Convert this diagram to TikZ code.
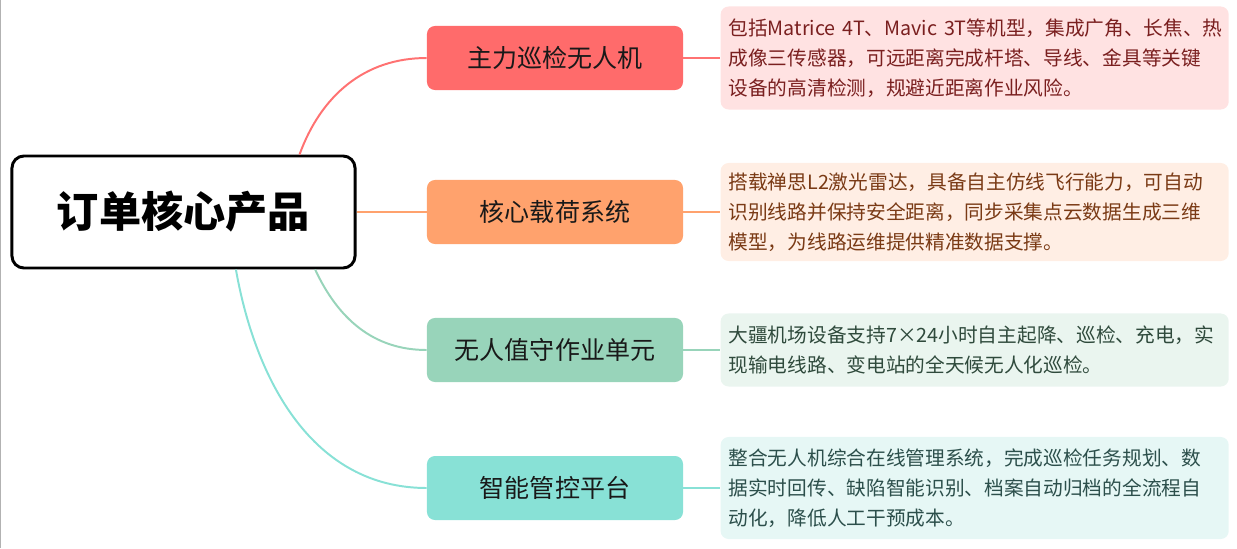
\documentclass[tikz,border=0pt]{standalone}
\usepackage{fontspec}
\setmainfont{Noto Sans CJK SC}
\usepackage{xcolor}
\usetikzlibrary{positioning}

\definecolor{redfill}{HTML}{FF6B6B}
\definecolor{orangefill}{HTML}{FFA26D}
\definecolor{greenfill}{HTML}{98D4BA}
\definecolor{tealfill}{HTML}{88E1D6}
\definecolor{redpale}{HTML}{FFE2E2}
\definecolor{orangepale}{HTML}{FFEEE4}
\definecolor{greenpale}{HTML}{EAF5EF}
\definecolor{tealpale}{HTML}{E6F7F5}
\definecolor{redtext}{HTML}{7A1F1F}
\definecolor{orangetext}{HTML}{7A3A15}
\definecolor{greentext}{HTML}{2F4A3C}
\definecolor{tealtext}{HTML}{2C4F4B}

\begin{document}
\begin{tikzpicture}[x=0.025cm, y=-0.025cm, node distance=0.925cm,
    rootbox/.style={draw=black, line width=2.1pt, rounded corners=0.3cm, fill=white, minimum width=8.575cm, minimum height=2.8cm, font=\bfseries\fontsize{30}{36}\selectfont},
    branch/.style={rounded corners=0.2cm, minimum width=6.4cm, minimum height=1.6cm, text=black!90, font=\fontsize{17.8}{20}\selectfont},
    desc/.style={rounded corners=0.2cm, text width=12.3cm, inner xsep=0.2cm, align=left, font=\fontsize{14}{21.3}\selectfont},
    link/.style={line width=1.4pt}]
    \useasboundingbox (0,0) rectangle (1237,548);
    \draw[gray!60, line width=0.7pt] (0.6,0) -- (0.6,548);

    % root and branches
    \node[rootbox] (root) at (183.5,212) {订单核心产品};
    \node[branch, fill=redfill] (b1) at (555,58) {主力巡检无人机};
    \node[branch, fill=orangefill] (b2) at (555,212) {核心载荷系统};
    \node[branch, fill=greenfill] (b3) at (555,350) {无人值守作业单元};
    \node[branch, fill=tealfill] (b4) at (555,488) {智能管控平台};

    % descriptions
    \node[desc, fill=redpale, text=redtext, minimum height=2.575cm, right=of b1] (d1)
        {包括Matrice~4T、Mavic~3T等机型，集成广角、长焦、热\\成像三传感器，可远距离完成杆塔、导线、金具等关键\\设备的高清检测，规避近距离作业风险。};
    \node[desc, fill=orangepale, text=orangetext, minimum height=2.45cm, right=of b2] (d2)
        {搭载禅思L2激光雷达，具备自主仿线飞行能力，可自动\\识别线路并保持安全距离，同步采集点云数据生成三维\\模型，为线路运维提供精准数据支撑。};
    \node[desc, fill=greenpale, text=greentext, minimum height=1.825cm, right=of b3] (d3)
        {大疆机场设备支持7×24小时自主起降、巡检、充电，实\\现输电线路、变电站的全天候无人化巡检。};
    \node[desc, fill=tealpale, text=tealtext, minimum height=2.55cm, right=of b4] (d4)
        {整合无人机综合在线管理系统，完成巡检任务规划、数\\据实时回传、缺陷智能识别、档案自动归档的全流程自\\动化，降低人工干预成本。};

    % links
    \draw[link, redfill!95] ([xshift=2.9cm]root.north) to[out=70, in=180] (b1.west);
    \draw[link, orangefill] (root.east) -- (b2.west);
    \draw[link, greenfill] ([xshift=3.29cm]root.south) to[out=-65, in=180] (b3.west);
    \draw[link, tealfill] ([xshift=1.31cm]root.south) to[out=-80, in=180] (b4.west);
    \draw[link, redfill!95] (b1.east) -- (d1.west);
    \draw[link, orangefill] (b2.east) -- (d2.west);
    \draw[link, greenfill] (b3.east) -- (d3.west);
    \draw[link, tealfill] (b4.east) -- (d4.west);
\end{tikzpicture}
\end{document}
